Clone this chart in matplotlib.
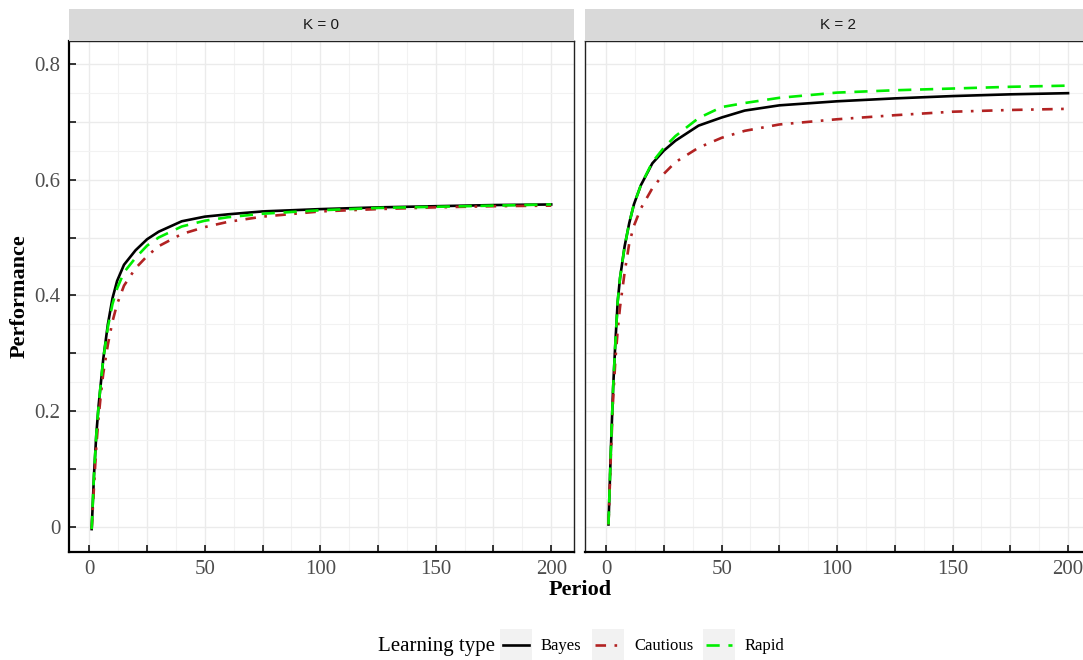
import matplotlib
matplotlib.use("Agg")
import matplotlib.pyplot as plt
from matplotlib.patches import Rectangle

periods = [1, 2, 3, 4, 5, 6, 8, 10, 12, 15, 20, 25, 30, 40, 50, 60, 75, 100, 125, 150, 175, 200]

# K = 0
bayes_k0 = [-0.003, 0.09, 0.16, 0.21, 0.25, 0.29, 0.35, 0.395, 0.425, 0.453, 0.478, 0.497, 0.51,
            0.528, 0.536, 0.54, 0.545, 0.549, 0.552, 0.554, 0.556, 0.557]
cautious_k0 = [-0.003, 0.07, 0.14, 0.19, 0.23, 0.265, 0.315, 0.355, 0.385, 0.417, 0.447, 0.468, 0.485,
               0.506, 0.518, 0.527, 0.536, 0.545, 0.549, 0.552, 0.554, 0.555]
rapid_k0 = [-0.003, 0.09, 0.16, 0.21, 0.25, 0.29, 0.345, 0.385, 0.412, 0.44, 0.465, 0.486, 0.5,
            0.519, 0.529, 0.535, 0.541, 0.547, 0.551, 0.553, 0.555, 0.557]

# K = 2
bayes_k2 = [0.005, 0.13, 0.24, 0.32, 0.39, 0.43, 0.485, 0.525, 0.557, 0.59, 0.628, 0.65, 0.667,
            0.693, 0.707, 0.719, 0.728, 0.735, 0.74, 0.744, 0.747, 0.749]
cautious_k2 = [0.005, 0.12, 0.22, 0.29, 0.34, 0.38, 0.44, 0.49, 0.52, 0.55, 0.585, 0.61, 0.63,
               0.655, 0.672, 0.684, 0.695, 0.704, 0.711, 0.717, 0.72, 0.722]
rapid_k2 = [0.005, 0.13, 0.24, 0.32, 0.39, 0.43, 0.485, 0.525, 0.557, 0.59, 0.63, 0.655, 0.675,
            0.706, 0.725, 0.732, 0.741, 0.75, 0.754, 0.757, 0.76, 0.762]

panels = ["K = 0", "K = 2"]
series = [[bayes_k0, cautious_k0, rapid_k0], [bayes_k2, cautious_k2, rapid_k2]]
types = ["Bayes", "Cautious", "Rapid"]
colors = ["black", "#B22222", "#00EE00"]
dashes = [None, (4, 3.2, 1, 3.2), (5, 3.3)]

serif = "Liberation Serif"
W, H = 1083, 660

fig = plt.figure(figsize=(W / 100, H / 100), dpi=100)

lefts = [68.7, 585.5]
pw = 505.5
for i, name in enumerate(panels):
    ax = fig.add_axes([lefts[i] / W, (H - 551.7) / H, pw / W, (551.7 - 41) / H])
    for vals, c, d in zip(series[i], colors, dashes):
        line, = ax.plot(periods, vals, color=c, lw=1.9, zorder=3)
        if d:
            line.set_dashes(d)
    ax.set_xlim(-8.95, 209.95)
    ax.set_ylim(-0.042, 0.839)
    ax.set_xticks([0, 25, 50, 75, 100, 125, 150, 175, 200])
    ax.set_xticklabels(["0", "", "50", "", "100", "", "150", "", "200"])
    ax.set_xticks([12.5 + 25 * k for k in range(8)], minor=True)
    ax.set_yticks([0, 0.1, 0.2, 0.3, 0.4, 0.5, 0.6, 0.7, 0.8])
    ax.set_yticklabels(["0", "", "0.2", "", "0.4", "", "0.6", "", "0.8"])
    ax.set_yticks([0.05 + 0.1 * k for k in range(8)], minor=True)
    ax.grid(True, which="major", color="#EBEBEB", lw=1.0, zorder=0)
    ax.grid(True, which="minor", color="#F2F2F2", lw=0.8, zorder=0)
    ax.tick_params(which="major", direction="in", length=5, width=1.1, color="black",
                   labelsize=15, labelcolor="#4D4D4D", pad=6)
    ax.tick_params(which="minor", length=0)
    for lab in ax.get_xticklabels() + ax.get_yticklabels():
        lab.set_fontfamily(serif)
    ax.spines["bottom"].set_linewidth(1.6)
    if i == 0:
        ax.spines["left"].set_linewidth(1.6)
        thin = ["top", "right"]
    else:
        # no y axis on the second facet
        ax.tick_params(axis="y", which="both", length=0, labelleft=False)
        thin = ["top", "right", "left"]
    for s in thin:
        ax.spines[s].set_linewidth(1.0)
        ax.spines[s].set_color("#222222")
    ax.set_axisbelow(True)

    # facet strip
    strip = fig.add_axes([lefts[i] / W, (H - 41) / H, pw / W, 32 / H])
    strip.set_facecolor("#D9D9D9")
    strip.set_xticks([])
    strip.set_yticks([])
    for s in strip.spines.values():
        s.set_visible(False)
    strip.text(0.5, 0.5, name, ha="center", va="center", fontsize=11,
               color="#1A1A1A", family="Liberation Sans")

fig.text(20 / W, 1 - 296 / H, "Performance", rotation=90, ha="center", va="center",
         fontsize=16, fontweight="bold", family=serif)
fig.text(580 / W, 1 - 590 / H, "Period", ha="center", va="center",
         fontsize=16, fontweight="bold", family=serif)

# legend at the bottom
leg = fig.add_axes([0, 0, 1, 1], facecolor="none")
leg.set_xlim(0, W)
leg.set_ylim(H, 0)
leg.axis("off")
leg.text(378, 646, "Learning type", ha="left", va="center", fontsize=15, family=serif)
key_x = [500, 592, 703]
text_x = [541, 634, 745]
for kx, tx, name, c, d in zip(key_x, text_x, types, colors, dashes):
    leg.add_patch(Rectangle((kx, 629), 32, 31, facecolor="#F2F2F2", edgecolor="none"))
    ln, = leg.plot([kx + 3, kx + 29], [645, 645], color=c, lw=1.9)
    if d:
        ln.set_dashes(d)
    leg.text(tx, 646, name, ha="left", va="center", fontsize=12, family=serif)

plt.savefig("out.png", dpi=100)
